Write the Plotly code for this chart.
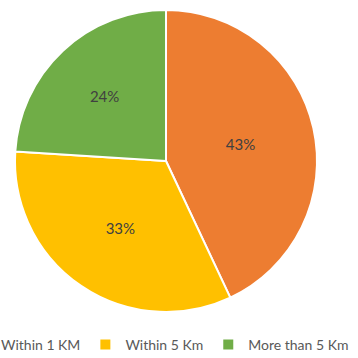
import plotly.graph_objects as go

categories = ["Within 1 KM", "Within 5 Km", "More than 5 Km"]
shares = [43, 33, 24]
colors = ["#ED7D31", "#FFC000", "#70AD47"]

W, H = 460, 358

fig = go.Figure(go.Pie(
    labels=categories,
    values=shares,
    sort=False,
    direction="clockwise",
    rotation=0,
    domain=dict(x=[15 / W, 317 / W], y=[0, 1]),
    marker=dict(colors=colors, line=dict(color="white", width=2)),
    texttemplate="%{value}%",
    textposition="inside",
    insidetextorientation="horizontal",
    textfont=dict(family="Lato", size=15, color="#404040"),
    hoverinfo="label+percent",
))

fig.update_layout(
    width=W, height=H,
    margin=dict(l=0, r=0, t=10, b=46, autoexpand=False),
    paper_bgcolor="white",
    plot_bgcolor="white",
    showlegend=True,
    legend=dict(
        orientation="h",
        x=-42 / W, xanchor="left",
        y=-0.046, yanchor="top",
        font=dict(family="Lato", size=14, color="#595959"),
        itemwidth=30,
        borderwidth=3,
        bordercolor="rgba(0,0,0,0)",
        traceorder="normal",
    ),
)

fig.write_html("out.html", post_script="document.body.style.margin='0px';")
